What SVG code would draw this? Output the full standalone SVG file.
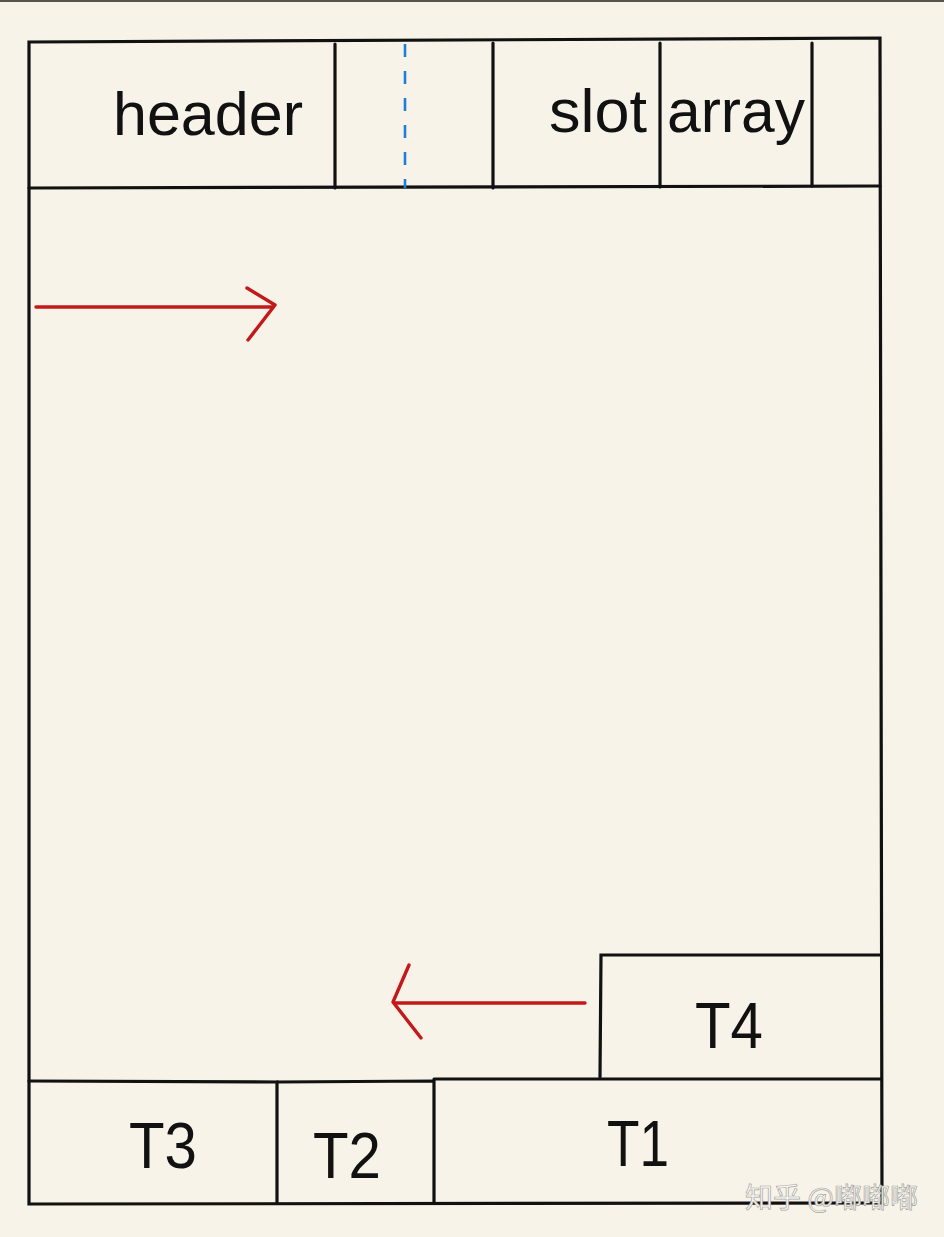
<svg xmlns="http://www.w3.org/2000/svg" width="944" height="1237" viewBox="0 0 944 1237">
<style>
.ln{stroke:#111;stroke-width:3.2;fill:none;stroke-linecap:round}
.red{stroke:#c3191b;stroke-width:3.4;fill:none;stroke-linecap:round;stroke-linejoin:round}
.t{font-family:"Liberation Sans",Arial,sans-serif;font-size:62px;fill:#111}
.tb{font-family:"Liberation Sans",Arial,sans-serif;font-size:64px;fill:#111;text-anchor:middle}
.wm{font-family:"Noto Sans CJK SC","Liberation Sans",sans-serif;font-size:28px;fill:#fbfaf7;stroke:#a8a6a0;stroke-width:0.7}
</style>
<rect x="0" y="0" width="944" height="1237" fill="#f7f3e9"/>
<rect x="0" y="0" width="944" height="2" fill="#55554f"/>
<g id="page">
<path class="ln" d="M29 42 L880 38 L882 1203 L29 1204 Z"/>
</g>
<g id="header">
<path class="ln" d="M29 188 L880 186"/>
<path class="ln" d="M335 44 L335 188"/>
<path d="M405 44 L405 188" stroke="#1f7fd6" stroke-width="2.6" stroke-dasharray="13,14" fill="none"/>
<path class="ln" d="M493 43 L493 188"/>
<path class="ln" d="M660 43 L660 187"/>
<path class="ln" d="M812 43 L812 186"/>
<text class="t" x="113" y="135" textLength="190" lengthAdjust="spacingAndGlyphs">header</text>
<text class="t" x="549" y="132" textLength="98" lengthAdjust="spacingAndGlyphs">slot</text>
<text class="t" x="667" y="132" textLength="138" lengthAdjust="spacingAndGlyphs">array</text>
</g>
<g id="T4">
<path class="ln" d="M600 1077 L601 955 L881 955"/>
<text class="tb" x="729" y="1048" textLength="68" lengthAdjust="spacingAndGlyphs">T4</text>
</g>
<g id="T3">
<path class="ln" d="M29 1081 L277 1082 L277 1203"/>
<text class="tb" x="163" y="1168" textLength="68" lengthAdjust="spacingAndGlyphs">T3</text>
</g>
<g id="T2">
<path class="ln" d="M277 1082 L434 1081 L434 1203"/>
<text class="tb" x="347" y="1178" textLength="68" lengthAdjust="spacingAndGlyphs">T2</text>
</g>
<g id="T1">
<path class="ln" d="M434 1079 L881 1079"/>
<text class="tb" x="638" y="1166" textLength="62" lengthAdjust="spacingAndGlyphs">T1</text>
</g>
<g id="connectors">
<path class="red" d="M36 307 L273 307"/>
<path class="red" d="M247 288 L275 305 L248 340"/>
<path class="red" d="M585 1003 L394 1003"/>
<path class="red" d="M409 965 L393 1002 L421 1038"/>
</g>
<text class="wm" x="745" y="1208" textLength="173" lengthAdjust="spacingAndGlyphs">知乎 @嘟嘟嘟</text>
</svg>
